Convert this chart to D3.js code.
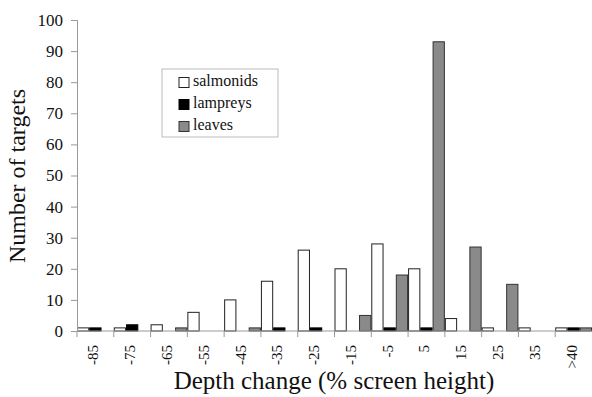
<!DOCTYPE html>
<html>
<head>
<meta charset="utf-8">
<script src="https://cdn.jsdelivr.net/npm/d3@7"></script>
<style>
  body { margin: 0; background: #fff; }
  svg text { font-family: "Times New Roman", Times, "Liberation Serif", "DejaVu Serif", serif; fill: #111; }
</style>
</head>
<body>
<svg id="chart" width="592" height="397"></svg>
<script>
const categories = ['-85', '-75', '-65', '-55', '-45', '-35', '-25', '-15', '-5', '5', '15', '25', '35', '>40'];
const seriesNames = ['salmonids', 'lampreys', 'leaves'];
const salmonids = [1, 1, 2, 6, 10, 16, 26, 20, 28, 20, 4, 1, 1, 1];
const lampreys  = [1, 2, 0, 0, 0, 1, 1, 0, 1, 1, 0, 0, 0, 1];
const leaves    = [0, 0, 1, 0, 1, 0, 0, 5, 18, 93, 27, 15, 0, 1];
const yTicks = [0, 10, 20, 30, 40, 50, 60, 70, 80, 90, 100];

const fills = { salmonids: '#ffffff', lampreys: '#000000', leaves: '#8a8a8a' };
const strokes = { salmonids: '#222', lampreys: '#000', leaves: '#333' };

const svg = d3.select('#chart');
const margin = { left: 77, right: 0, top: 20, bottom: 66 };
const width = 592, height = 397;

const x = d3.scaleBand().domain(categories).range([margin.left, width - margin.right]).padding(0);
const xs = d3.scaleBand().domain(seriesNames).range([0, x.bandwidth()]).padding(0);
const y = d3.scaleLinear().domain([0, 100]).range([height - margin.bottom, margin.top]);

const rows = categories.map((c, i) => ({
  cat: c,
  values: [
    { key: 'salmonids', v: salmonids[i] },
    { key: 'lampreys', v: lampreys[i] },
    { key: 'leaves', v: leaves[i] }
  ]
}));

// bars
svg.append('g').selectAll('g')
  .data(rows)
  .join('g')
    .attr('transform', d => `translate(${x(d.cat)},0)`)
  .selectAll('rect')
  .data(d => d.values.filter(e => e.v > 0))
  .join('rect')
    .attr('x', d => xs(d.key) + 0.5)
    .attr('width', xs.bandwidth() - 1)
    .attr('y', d => y(d.v))
    .attr('height', d => y(0) - y(d.v))
    .attr('fill', d => fills[d.key])
    .attr('stroke', d => strokes[d.key])
    .attr('stroke-width', 1);

// y axis
const yAxis = svg.append('g')
  .attr('transform', `translate(${margin.left},0)`)
  .call(d3.axisLeft(y).tickValues(yTicks).tickSize(6).tickPadding(8));
yAxis.attr('font-family', null);
yAxis.select('.domain').attr('stroke', '#999');
yAxis.selectAll('.tick line').attr('stroke', '#999');
yAxis.selectAll('text').attr('font-size', 17);

// x axis line and boundary ticks
const xg = svg.append('g');
xg.append('line')
  .attr('x1', margin.left).attr('x2', width)
  .attr('y1', y(0)).attr('y2', y(0))
  .attr('stroke', '#999');
xg.selectAll('line.xt')
  .data(categories)
  .join('line')
    .attr('class', 'xt')
    .attr('x1', d => x(d)).attr('x2', d => x(d))
    .attr('y1', y(0)).attr('y2', y(0) + 6)
    .attr('stroke', '#999');
xg.selectAll('text')
  .data(categories)
  .join('text')
    .attr('transform', d => `translate(${x(d) + x.bandwidth() / 2},${y(0) + 14}) rotate(-90)`)
    .attr('text-anchor', 'end')
    .attr('dy', '0.2em')
    .attr('font-size', 15)
    .text(d => d);

// axis titles
svg.append('text')
  .attr('transform', 'translate(25,176) rotate(-90)')
  .attr('text-anchor', 'middle')
  .attr('font-size', 24)
  .text('Number of targets');

svg.append('text')
  .attr('x', 334)
  .attr('y', 389)
  .attr('text-anchor', 'middle')
  .attr('font-size', 25)
  .text('Depth change (% screen height)');

// legend
const lg = svg.append('g').attr('transform', 'translate(162,69)');
lg.append('rect')
  .attr('width', 116).attr('height', 68)
  .attr('fill', '#fff').attr('stroke', '#bbb');
lg.selectAll('g')
  .data(seriesNames)
  .join('g')
    .attr('transform', (d, i) => `translate(17,${8 + i * 22})`)
    .call(g => g.append('rect')
      .attr('width', 10).attr('height', 10)
      .attr('y', 0.5)
      .attr('fill', d => fills[d])
      .attr('stroke', d => strokes[d]))
    .call(g => g.append('text')
      .attr('x', 14).attr('y', 9)
      .attr('font-size', 16)
      .text(d => d));
</script>
</body>
</html>
